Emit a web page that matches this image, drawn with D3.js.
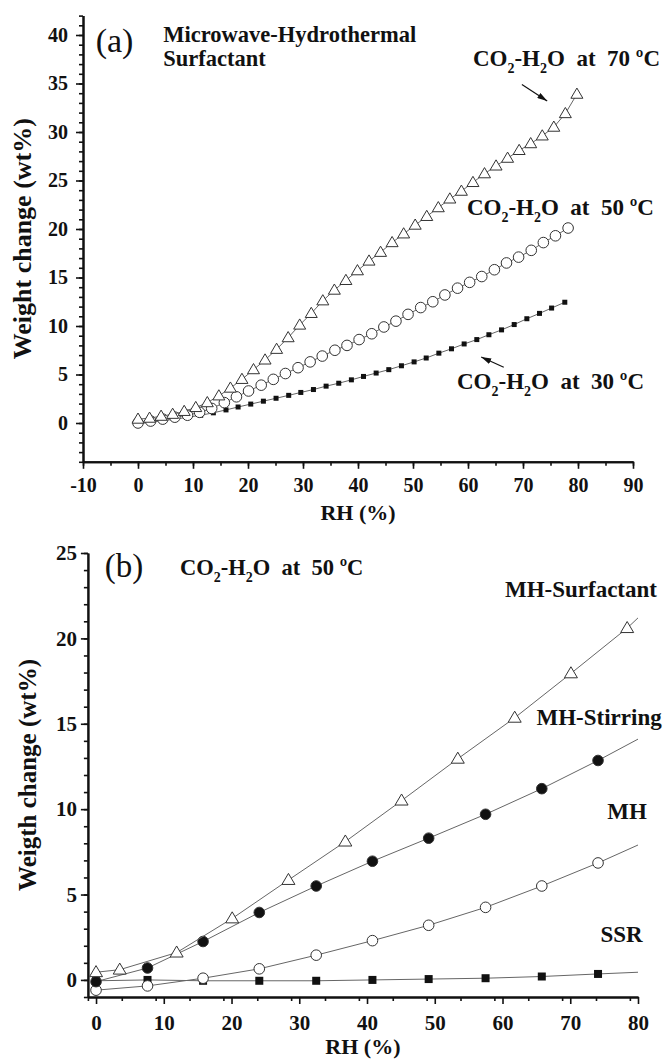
<!DOCTYPE html>
<html>
<head>
<meta charset="utf-8">
<script src="https://cdn.jsdelivr.net/npm/d3@7"></script>
<style>
  body { margin: 0; background: #fff; }
  svg text { font-family: "Liberation Serif", "Times New Roman", serif; font-weight: bold; fill: #111; }
</style>
</head>
<body>
<div id="chart"></div>
<script>
// ---- Panel (a): Microwave-Hydrothermal Surfactant, three temperatures ----
const rh70 = [0, 2.1, 4.2, 6.3, 8.4, 10.5, 12.6, 14.7, 16.8, 18.9, 21.0, 23.1, 25.2, 27.3, 29.4, 31.5, 33.6, 35.7, 37.8, 39.9,
  42.0, 44.1, 46.2, 48.3, 50.4, 52.5, 54.6, 56.7, 58.8, 60.9, 63.0, 65.1, 67.2, 69.3, 71.4, 73.5, 75.6, 77.7, 79.8]
const wt70 = [0.4, 0.5, 0.7, 0.9, 1.2, 1.6, 2.1, 2.8, 3.6, 4.5, 5.5, 6.5, 7.6, 8.8, 10.1, 11.3, 12.6, 13.7, 14.7, 15.7,
  16.7, 17.6, 18.6, 19.5, 20.4, 21.3, 22.2, 23.1, 23.9, 24.8, 25.7, 26.5, 27.3, 28.1, 28.8, 29.6, 30.5, 31.9, 33.9]

const rh50 = [0, 2.3, 4.5, 6.7, 9.0, 11.2, 13.4, 15.7, 17.9, 20.1, 22.4, 24.6, 26.8, 29.1, 31.3, 33.5, 35.8, 38.0,
  40.2, 42.5, 44.7, 46.9, 49.1, 51.4, 53.6, 55.8, 58.1, 60.3, 62.5, 64.8, 67.0, 69.2, 71.5, 73.7, 75.9, 78.2]
const wt50 = [0.0, 0.2, 0.4, 0.6, 0.8, 1.1, 1.5, 2.1, 2.7, 3.3, 3.9, 4.5, 5.1, 5.7, 6.3, 6.9, 7.5, 8.0,
  8.6, 9.2, 9.9, 10.5, 11.2, 11.9, 12.5, 13.2, 13.9, 14.5, 15.1, 15.8, 16.5, 17.1, 17.8, 18.6, 19.3, 20.1]

const rh30 = [0, 2.3, 4.6, 6.8, 9.1, 11.4, 13.7, 16.0, 18.2, 20.5, 22.8, 25.1, 27.4, 29.6, 31.9, 34.2, 36.5, 38.8,
  41.0, 43.3, 45.6, 47.9, 50.2, 52.4, 54.7, 57.0, 59.3, 61.6, 63.8, 66.1, 68.4, 70.7, 73.0, 75.2, 77.6]
const wt30 = [-0.1, 0.1, 0.25, 0.4, 0.6, 0.8, 1.05, 1.35, 1.65, 1.95, 2.25, 2.55, 2.85, 3.15, 3.45, 3.8, 4.1, 4.45,
  4.8, 5.15, 5.5, 5.9, 6.3, 6.7, 7.2, 7.65, 8.15, 8.6, 9.1, 9.6, 10.15, 10.75, 11.3, 11.85, 12.45]

const xTicksA = [-10, 0, 10, 20, 30, 40, 50, 60, 70, 80, 90]
const yTicksA = [0, 5, 10, 15, 20, 25, 30, 35, 40]

// ---- Panel (b): CO2-H2O at 50 ºC, four syntheses ----
const rhB = [0, 7.6, 15.8, 24.1, 32.5, 40.8, 49.1, 57.5, 65.8, 74.1]
const rhSurf = [0, 3.5, 11.9, 20.1, 28.4, 36.8, 45.1, 53.4, 61.8, 70.1, 78.4]
const wtSurf = [0.45, 0.6, 1.6, 3.6, 5.85, 8.1, 10.5, 12.95, 15.35, 17.95, 20.6]
const wtStir = [-0.1, 0.7, 2.25, 3.95, 5.5, 6.95, 8.3, 9.7, 11.2, 12.85]
const wtMH = [-0.6, -0.35, 0.1, 0.65, 1.45, 2.3, 3.2, 4.25, 5.5, 6.85]
const wtSSR = [-0.05, 0.0, -0.05, -0.05, -0.05, 0.0, 0.05, 0.1, 0.2, 0.35]
// fitted lines run on to the end of the axis (RH 80)
const lineEndRH = 80
const lineEndB = {surf: 21.2, stir: 14.1, mh: 7.9, ssr: 0.45}

const xTicksB = [0, 10, 20, 30, 40, 50, 60, 70, 80]
const yTicksB = [0, 5, 10, 15, 20, 25]

const svg = d3.select('#chart').append('svg')
  .attr('width', 664)
  .attr('height', 1059)

svg.append('defs').append('marker')
  .attr('id', 'arrow')
  .attr('viewBox', '0 0 10 6')
  .attr('refX', 10).attr('refY', 3)
  .attr('markerWidth', 10).attr('markerHeight', 6)
  .attr('markerUnits', 'userSpaceOnUse')
  .attr('orient', 'auto')
  .append('path').attr('d', 'M0,0L10,3L0,6Z').attr('fill', '#111')

// Scales
const xA = d3.scaleLinear().domain([-10, 90]).range([83, 633])
const yA = d3.scaleLinear().domain([-4, 42]).range([461.8, 15.6])
const xB = d3.scaleLinear().domain([-1.2, 80]).range([87.9, 638])
const yB = d3.scaleLinear().domain([-1, 25]).range([997, 553])

const plainNum = d => String(d) // hyphen minus, as in the figure

function drawAxes(g, x, y, o) {
  const x0 = x.range()[0]
  const y0 = y.range()[0]
  const xd = x.domain(), yd = y.domain()
  // minor ticks
  g.append('g').attr('transform', `translate(0,${y0})`)
    .call(d3.axisBottom(x).tickValues(d3.range(xd[0], xd[1] + 0.01, o.xMinor)).tickSize(4).tickFormat('').tickSizeOuter(0))
  g.append('g').attr('transform', `translate(${x0},0)`)
    .call(d3.axisLeft(y).tickValues(d3.range(Math.ceil(yd[0]), yd[1] + 0.01, o.yMinor)).tickSize(4).tickFormat('').tickSizeOuter(0))
  // major ticks
  const bx = g.append('g').attr('transform', `translate(0,${y0})`)
    .call(d3.axisBottom(x).tickValues(o.xTicks).tickFormat(plainNum).tickSize(7).tickPadding(o.xPad).tickSizeOuter(0))
  const by = g.append('g').attr('transform', `translate(${x0},0)`)
    .call(d3.axisLeft(y).tickValues(o.yTicks).tickFormat(plainNum).tickSize(7).tickPadding(o.yPad).tickSizeOuter(0))
  g.selectAll('.domain').attr('stroke', '#111').attr('stroke-width', 2)
  g.selectAll('.tick line').attr('stroke', '#111').attr('stroke-width', 1.6)
  bx.selectAll('text').style('font-size', o.tickFont + 'px').attr('fill', '#111')
  by.selectAll('text').style('font-size', o.tickFont + 'px').attr('fill', '#111')

  g.append('text')
    .attr('x', d3.mean(x.range())).attr('y', o.xTitleY)
    .attr('text-anchor', 'middle')
    .style('font-size', o.xTitleFont + 'px')
    .text(o.xTitle)
  g.append('text')
    .attr('transform', `translate(${o.yTitleX},${d3.mean(y.range())}) rotate(-90)`)
    .attr('text-anchor', 'middle')
    .style('font-size', o.yTitleFont + 'px')
    .text(o.yTitle)
}

function triPath(w, h) {
  return `M0,${-h * 0.6}L${w / 2},${h * 0.4}L${-w / 2},${h * 0.4}Z`
}

function drawSeries(g, x, y, rh, wt, s) {
  const pts = rh.map((r, i) => ({r: r, v: wt[i]}))
  const line = d3.line().x(d => x(d.r)).y(d => y(d.v))
  const linePts = s.end !== undefined ? [...pts, {r: lineEndRH, v: s.end}] : pts
  g.append('path')
    .datum(linePts)
    .attr('d', line)
    .attr('fill', 'none')
    .attr('stroke', '#666')
    .attr('stroke-width', 1)
  const m = g.append('g')
  if (s.shape === 'circle') {
    m.selectAll('circle').data(pts).join('circle')
      .attr('cx', d => x(d.r)).attr('cy', d => y(d.v))
      .attr('r', s.size)
      .attr('fill', s.fill).attr('stroke', '#333').attr('stroke-width', 1)
  } else if (s.shape === 'square') {
    m.selectAll('rect').data(pts).join('rect')
      .attr('x', d => x(d.r) - s.size / 2).attr('y', d => y(d.v) - s.size / 2)
      .attr('width', s.size).attr('height', s.size)
      .attr('fill', '#111')
  } else {
    m.selectAll('path').data(pts).join('path')
      .attr('transform', d => `translate(${x(d.r)},${y(d.v)})`)
      .attr('d', triPath(s.size, s.size * 0.85))
      .attr('fill', '#fff').attr('stroke', '#333').attr('stroke-width', 1)
  }
}

function coLabel(g, x, y, size, rest) {
  const t = g.append('text')
    .attr('x', x).attr('y', y)
    .style('font-size', size + 'px')
    .style('white-space', 'pre')
  const sub = Math.round(size * 0.62)
  const dy = Math.round(size * 0.3)
  t.append('tspan').text('CO')
  t.append('tspan').attr('dy', dy).style('font-size', sub + 'px').text('2')
  t.append('tspan').attr('dy', -dy).text('-H')
  t.append('tspan').attr('dy', dy).style('font-size', sub + 'px').text('2')
  t.append('tspan').attr('dy', -dy).text(rest)
}

// ---------- Panel (a) ----------
const gA = svg.append('g')
drawAxes(gA, xA, yA, {
  xTicks: xTicksA, yTicks: yTicksA, xMinor: 5, yMinor: 1,
  xPad: 9, yPad: 8, tickFont: 20,
  xTitle: 'RH (%)', xTitleY: 520, xTitleFont: 22,
  yTitle: 'Weight change (wt%)', yTitleX: 31, yTitleFont: 26
})
drawSeries(gA, xA, yA, rh30, wt30, {shape: 'square', size: 5})
drawSeries(gA, xA, yA, rh50, wt50, {shape: 'circle', size: 5.3, fill: '#fff'})
drawSeries(gA, xA, yA, rh70, wt70, {shape: 'triangle', size: 12})

gA.append('text').attr('x', xA(-7.7)).attr('y', yA(38.2))
  .style('font-size', '34px').style('font-weight', 'normal').text('(a)')
gA.append('text').attr('x', xA(4.6)).attr('y', yA(39.3)).style('font-size', '22.5px').text('Microwave-Hydrothermal')
gA.append('text').attr('x', xA(4.6)).attr('y', yA(36.8)).style('font-size', '22.5px').text('Surfactant')
coLabel(gA, xA(60.9), yA(36.8), 23, 'O  at  70 ºC')
coLabel(gA, xA(59.8), yA(21.4), 23, 'O  at  50 ºC')
coLabel(gA, xA(58.0), yA(3.5), 23, 'O  at  30 ºC')
gA.append('line')
  .attr('x1', xA(69.8)).attr('y1', yA(34.9)).attr('x2', xA(74.4)).attr('y2', yA(33.2))
  .attr('stroke', '#111').attr('stroke-width', 1.2).attr('marker-end', 'url(#arrow)')
gA.append('line')
  .attr('x1', xA(66.5)).attr('y1', yA(5.75)).attr('x2', xA(62.4)).attr('y2', yA(6.8))
  .attr('stroke', '#111').attr('stroke-width', 1.2).attr('marker-end', 'url(#arrow)')

// ---------- Panel (b) ----------
const gB = svg.append('g')
drawAxes(gB, xB, yB, {
  xTicks: xTicksB, yTicks: yTicksB, xMinor: 5, yMinor: 1,
  xPad: 11, yPad: 4, tickFont: 21,
  xTitle: 'RH (%)', xTitleY: 1054, xTitleFont: 22,
  yTitle: 'Weigth change (wt%)', yTitleX: 36, yTitleFont: 25
})
drawSeries(gB, xB, yB, rhB, wtSSR, {shape: 'square', size: 8, end: lineEndB.ssr})
drawSeries(gB, xB, yB, rhB, wtMH, {shape: 'circle', size: 5.3, fill: '#fff', end: lineEndB.mh})
drawSeries(gB, xB, yB, rhB, wtStir, {shape: 'circle', size: 5.3, fill: '#111', end: lineEndB.stir})
drawSeries(gB, xB, yB, rhSurf, wtSurf, {shape: 'triangle', size: 13, end: lineEndB.surf})

gB.append('text').attr('x', xB(1.3)).attr('y', yB(23.6))
  .style('font-size', '33px').style('font-weight', 'normal').text('(b)')
coLabel(gB, xB(12.4), yB(23.7), 22.5, 'O  at  50 ºC')
const bLabels = [
  {text: 'MH-Surfactant', r: 82.8, v: 22.4},
  {text: 'MH-Stirring', r: 83.5, v: 14.9},
  {text: 'MH', r: 81.3, v: 9.4},
  {text: 'SSR', r: 80.7, v: 2.2}
]
gB.selectAll('.blab').data(bLabels).join('text')
  .attr('class', 'blab')
  .attr('x', d => xB(d.r)).attr('y', d => yB(d.v))
  .attr('text-anchor', 'end')
  .style('font-size', '23px')
  .text(d => d.text)
</script>
</body>
</html>
